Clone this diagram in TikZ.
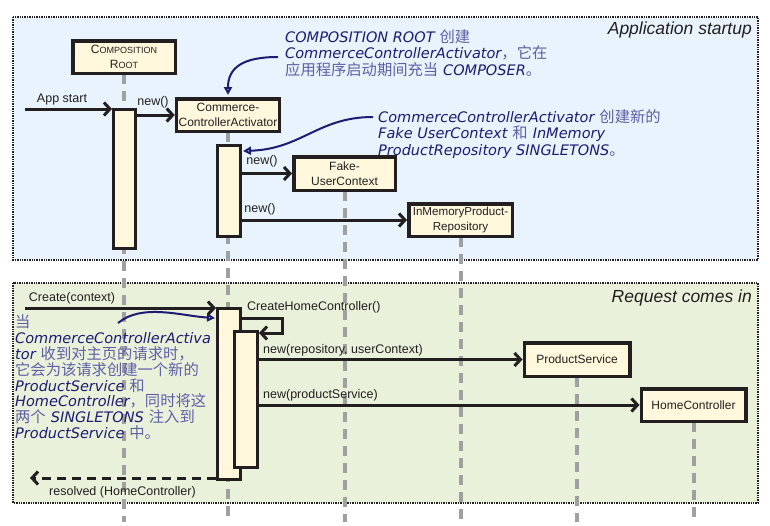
\documentclass[tikz,border=0pt]{standalone}
\usepackage{fontspec}
\setmainfont{Liberation Sans}
\newfontfamily\hwfont{DejaVu Sans}[ItalicFont={DejaVu Sans Oblique}]
\newfontfamily\cjkfont{Noto Sans CJK SC}
\usetikzlibrary{arrows.meta}
\definecolor{ink}{RGB}{35,31,32}
\definecolor{cream}{RGB}{255,248,220}
\definecolor{lblue}{RGB}{232,243,253}
\definecolor{lgreen}{RGB}{233,241,219}
\definecolor{lifegray}{RGB}{160,160,160}
\definecolor{hwblue}{RGB}{28,28,115}
\definecolor{zhblue}{RGB}{95,95,165}
\newcommand\hw[1]{{\hwfont\itshape\fontsize{14.5}{16}\selectfont\color{hwblue}#1}}
\newcommand\zh[1]{{\cjkfont\fontsize{15.3}{16}\selectfont\color{zhblue}#1}}
\newcommand\smc[1]{{\fontsize{9}{9}\selectfont #1}}
\newcommand\gapsp{\hspace{5pt}}
\begin{document}
\begin{tikzpicture}[x=1pt,y=-1pt,
  frame/.style={draw=ink,line width=2.5pt,dash pattern=on 1.4pt off 1pt},
  lifeline/.style={draw=lifegray,line width=4pt,dash pattern=on 10pt off 7pt},
  objbox/.style={draw=ink,line width=3.5pt,fill=cream,align=center,inner sep=0pt,
    font=\fontsize{12}{15.5}\selectfont,text=ink},
  actbar/.style={draw=ink,line width=3pt,fill=cream,inner sep=0pt},
  msg/.style={draw=ink,line width=3pt,-{Straight Barb[length=6pt,width=13pt]}},
  retmsg/.style={msg,dash pattern=on 9pt off 6pt},
  note/.style={draw=hwblue,line width=2pt,-{Triangle[open,length=8pt,width=8pt,fill=lblue]}},
  lbl/.style={inner sep=0pt,text=ink,font=\fontsize{12.5}{14}\selectfont},
  title/.style={inner sep=0pt,text=ink,font=\fontsize{17.5}{20}\selectfont\itshape},
  txt/.style={inner sep=0pt,anchor=base west,text height=10.5pt,text depth=3pt}]
\useasboundingbox (0,0) rectangle (770,525);

% frames
\path[fill=lblue] (13,17) rectangle (758,260);
\draw[frame] (13,17) rectangle (758,260);
\path[fill=lgreen] (13,283) rectangle (758,503);
\draw[frame] (13,283) rectangle (758,503);

\node[title,anchor=east] (t1) at (752,30) {Application startup};
\node[title,anchor=east] (t2) at (752,298) {Request comes in};

\coordinate (bottom) at (0,522);

% object box positions
\coordinate (crc) at (124,57);
\coordinate (ccac) at (228,115);
\coordinate (fucc) at (344.5,173.5);
\coordinate (imprc) at (460.5,220);
\coordinate (psc) at (577,359.5);
\coordinate (hcc) at (693.5,405);

% lifelines
\draw[lifeline] (crc) -- (crc |- bottom);
\draw[lifeline] (ccac) -- (ccac |- bottom);
\draw[lifeline] (fucc) -- (fucc |- bottom);
\draw[lifeline] (imprc) -- (imprc |- bottom);
\draw[lifeline] (psc) -- (psc |- bottom);
\draw[lifeline] (hcc) -- (hcc |- bottom);

% boxes
\node[objbox,minimum width=102.5pt,minimum height=32.5pt] (cr) at (crc) {C\smc{OMPOSITION}\\R\smc{OOT}};
\node[objbox,minimum width=103pt,minimum height=32.5pt] (cca) at (ccac) {Commerce-\\ControllerActivator};
\node[objbox,minimum width=101.5pt,minimum height=33.5pt] (fuc) at (fucc) {Fake-\\UserContext};
\node[objbox,minimum width=103.5pt,minimum height=32.5pt,font=\fontsize{11.6}{15.5}\selectfont] (impr) at (imprc) {InMemoryProduct-\\Repository};
\node[objbox,minimum width=105.5pt,minimum height=33.5pt] (ps) at (psc) {ProductService};
\node[objbox,minimum width=104.5pt,minimum height=32.5pt] (hc) at (hcc) {HomeController};

% note arrows
\coordinate (n1) at (278,57);
\coordinate (n1t) at (228,95);
\draw[note] (n1) .. controls (242,57) and (228,68) .. (n1t);
\coordinate (n2) at (373,117);
\coordinate (n2t) at (243,151);
\draw[note] (n2) .. controls (318,117) and (302,149) .. (n2t);
\coordinate (n3) at (118,323);
\coordinate (n3t) at (215,318);
\draw[note] (n3) .. controls (142,303) and (182,316) .. (n3t);

% activation bars
\node[actbar,minimum width=22pt,minimum height=139pt] (crbar) at (124.5,179) {};
\node[actbar,minimum width=23pt,minimum height=91pt] (ccabar1) at (229,191) {};
\node[actbar,minimum width=23pt,minimum height=171pt] (ccabar2) at (229,394) {};
\node[actbar,minimum width=23pt,minimum height=136pt] (ccabar3) at (246,399.5) {};

% messages
\coordinate (appstart) at (25,109);
\draw[msg] (appstart) -- (crbar.west |- appstart);
\node[lbl] (lappstart) at (62,99) {App start};

\draw[msg] (crbar.east |- cca.west) -- (cca.west);
\node[lbl] (lnew1) at (153,102) {new()};

\draw[msg] (ccabar1.east |- fuc.west) -- (fuc.west);
\node[lbl] (lnew2) at (262,161) {new()};

\draw[msg] (ccabar1.east |- impr.west) -- (impr.west);
\node[lbl] (lnew3) at (260,209) {new()};

\coordinate (create) at (25,308);
\draw[msg] (create) -- (ccabar2.west |- create);
\node[lbl] (lcreate) at (72,298) {Create(context)};

\coordinate (selfa) at (282,318);
\coordinate (selfb) at (282,333);
\draw[msg] (ccabar2.east |- selfa) -- (selfa) -- (selfb) -- (ccabar3.east |- selfb);
\node[lbl,anchor=west] (lself) at (247,307) {CreateHomeController()};

\draw[msg] (ccabar3.east |- ps.west) -- (ps.west);
\node[lbl,anchor=west] (lps) at (263,350) {new(repository, userContext)};

\draw[msg] (ccabar3.east |- hc.west) -- (hc.west);
\node[lbl,anchor=west] (lhc) at (263,395) {new(productService)};

\coordinate (res) at (30,478);
\draw[retmsg] (ccabar2.west |- res) -- (res);
\node[lbl,anchor=west] (lres) at (49,492) {resolved (HomeController)};

% annotation 1
\node[txt] (a1l1) at (285,42) {\hw{COMPOSITION ROOT}\gapsp\zh{创建}};
\node[txt] (a1l2) at (285,58.5) {\hw{CommerceControllerActivator}\zh{，它在}};
\node[txt] (a1l3) at (285,75) {\zh{应用程序启动期间充当}\gapsp\hw{COMPOSER}\zh{。}};

% annotation 2
\node[txt] (a2l1) at (378,122) {\hw{CommerceControllerActivator}\gapsp\zh{创建新的}};
\node[txt] (a2l2) at (378,138.5) {\hw{Fake UserContext}\gapsp\zh{和}\gapsp\hw{InMemory}};
\node[txt] (a2l3) at (378,155) {\hw{ProductRepository SINGLETONS}\zh{。}};

% annotation 3
\node[txt] (a3l1) at (15,327) {\zh{当}};
\node[txt] (a3l2) at (15,343) {\hw{CommerceControllerActiva}};
\node[txt] (a3l3) at (15,359) {\hw{tor}\gapsp\zh{收到对主页的请求时，}};
\node[txt] (a3l4) at (15,375) {\zh{它会为该请求创建一个新的}};
\node[txt] (a3l5) at (15,391) {\hw{ProductService}\gapsp\zh{和}};
\node[txt] (a3l6) at (15,406.5) {\hw{HomeController}\zh{，同时将这}};
\node[txt] (a3l7) at (15,422.5) {\zh{两个}\gapsp\hw{SINGLETONS}\gapsp\zh{注入到}};
\node[txt] (a3l8) at (15,438.5) {\hw{ProductService}\gapsp\zh{中。}};
\end{tikzpicture}
\end{document}
